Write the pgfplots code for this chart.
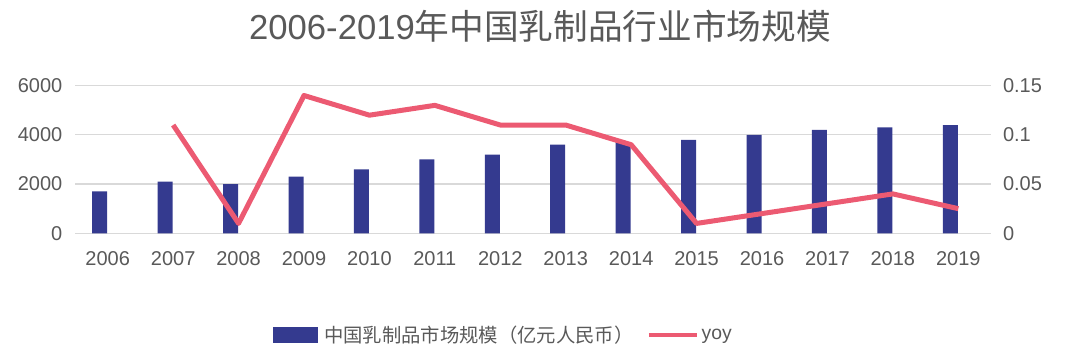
\documentclass[border=0pt]{standalone}
\usepackage{fontspec}
\setmainfont{Liberation Sans}
\newfontfamily\cjk{Noto Sans CJK SC}
\usepackage{pgfplots}
\pgfplotsset{compat=1.18}
\definecolor{barc}{RGB}{52,58,143}
\definecolor{linec}{RGB}{236,90,114}
\definecolor{txt}{RGB}{89,89,89}
\definecolor{gridc}{RGB}{217,217,217}
\begin{document}
\begin{tikzpicture}[x=1pt,y=1pt]
\useasboundingbox (0,0) rectangle (810,267.75);
\node[text=txt, font=\fontsize{26}{30}\selectfont] at (405,248) {2006-2019{\cjk 年中国乳制品行业市场规模}};
\begin{axis}[
  at={(56.25pt,92.8pt)}, anchor=south west,
  scale only axis, width=687pt, height=110.7pt,
  xmin=-0.5, xmax=13.5, ymin=0, ymax=6000,
  xtick={0,...,13},
  xticklabels={2006,2007,2008,2009,2010,2011,2012,2013,2014,2015,2016,2017,2018,2019},
  ytick={0,2000,4000,6000},
  /pgf/number format/1000 sep={},
  /pgf/number format/assume math mode=true,
  ymajorgrids, grid style={gridc, line width=0.9pt},
  axis line style={draw=none},
  major tick length=0pt,
  tick label style={text=txt, font=\fontsize{15}{18}\selectfont},
  xticklabel style={yshift=-10pt},
  yticklabel style={xshift=-6pt},
  clip=false,
]
\addplot[ybar, fill=barc, draw=none, bar width=11.25pt, bar shift=-6pt] coordinates {
(0,1700) (1,2100) (2,2000) (3,2300) (4,2600) (5,3000) (6,3200)
(7,3600) (8,3700) (9,3800) (10,4000) (11,4200) (12,4300) (13,4400)};
\end{axis}
\begin{axis}[
  at={(56.25pt,92.8pt)}, anchor=south west,
  scale only axis, width=687pt, height=110.7pt,
  xmin=-0.5, xmax=13.5, ymin=0, ymax=0.15,
  axis x line=none, axis y line*=right,
  axis line style={draw=none},
  ytick={0,0.05,0.1,0.15},
  yticklabels={0,0.05,0.1,0.15},
  major tick length=0pt,
  tick label style={text=txt, font=\fontsize{15}{18}\selectfont},
  yticklabel style={xshift=5.5pt},
  legend columns=2,
  legend style={at={(0.468,-0.689)}, anchor=center, draw=none, fill=none,
    font=\fontsize{14.5}{16}\selectfont, text=txt,
    /tikz/every even column/.append style={column sep=8pt}},
  legend cell align=left,
  clip=false,
]
\addlegendimage{legend image code/.code={\fill[barc] (0pt,-5.6pt) rectangle (33pt,5.6pt); \path (36pt,0pt);}}
\addlegendentry{{\cjk 中国乳制品市场规模（亿元人民币）}}
\addplot[linec, line width=3.75pt, line join=round, mark=none,
  legend image code/.code={\draw[linec, line width=3pt] (0pt,0pt) -- (36pt,0pt);}] coordinates {
(1,0.11) (2,0.01) (3,0.14) (4,0.12) (5,0.13) (6,0.11) (7,0.11)
(8,0.09) (9,0.01) (10,0.02) (11,0.03) (12,0.04) (13,0.025)};
\addlegendentry{yoy}
\end{axis}
\end{tikzpicture}
\end{document}
